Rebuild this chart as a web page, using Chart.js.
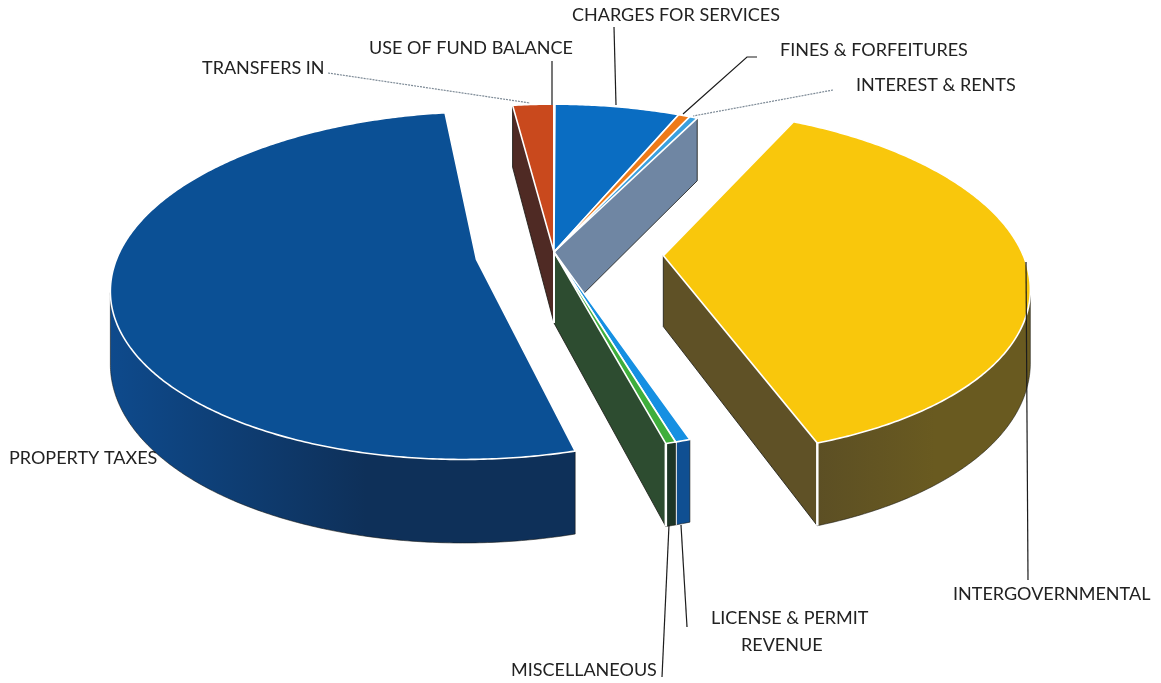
<!DOCTYPE html>
<html>
<head>
<meta charset="utf-8">
<title>Revenue sources</title>
<script src="https://cdn.jsdelivr.net/npm/chart.js@4"></script>
<style>
    html, body { margin: 0; padding: 0; background: #fff; }
    canvas { display: block; }
</style>
</head>
<body>
<canvas id="revenue_pie" width="1161" height="683"></canvas>
<script>
// share of revenue, percent, clockwise from the top left of the pie
const categories = ['TRANSFERS IN', 'USE OF FUND BALANCE', 'CHARGES FOR SERVICES', 'FINES & FORFEITURES',
    'INTEREST & RENTS', 'INTERGOVERNMENTAL', 'LICENSE & PERMIT REVENUE', 'MISCELLANEOUS', 'PROPERTY TAXES'];
const shares = [2.1, 0.06, 6.4, 0.6, 0.4, 37.3, 0.58, 0.39, 52.17];

const topColors = ['#c9491d', '#c9491d', '#0a6dc2', '#ee7a18', '#3aa0de', '#f9c70c', '#1690e2', '#3fae3c', '#0b5095'];
const wallLeft = ['#4f2a24', '#4f2a24', '#0a4a86', '#8a4a14', '#6f86a3', '#5c4f24', '#0f4f92', '#1d3526', '#0e4a8c'];
const wallRight = ['#4f2a24', '#4f2a24', '#0a4a86', '#8a4a14', '#6f86a3', '#695a20', '#0f4f92', '#1d3526', '#0e3059'];
const faceColors = ['#4f2a24', '#4f2a24', '#0a4a86', '#8a4a14', '#6f86a3', '#5f5126', '#0f4f92', '#2d4c30', '#104c8e'];
const explode = [0, 0, 0, 0, 0, 90, 0, 0, 65];

// [text, x, y centre] for every caption, leaders are polylines
const captions = [
    ['CHARGES FOR SERVICES', 572, 15],
    ['USE OF FUND BALANCE', 369, 48],
    ['TRANSFERS IN', 202, 68],
    ['FINES & FORFEITURES', 780, 50],
    ['INTEREST & RENTS', 856, 85],
    ['PROPERTY TAXES', 9, 458],
    ['INTERGOVERNMENTAL', 953, 594],
    ['LICENSE & PERMIT', 711, 618],
    ['REVENUE', 741, 645],
    ['MISCELLANEOUS', 511, 670]
];
const leaders = [
    [[614, 27], [616, 105]],
    [[552, 61], [552, 105]],
    [[757, 57], [747, 57], [683, 114]],
    [[1026, 262], [1028, 580]],
    [[681, 525], [687, 627]],
    [[669, 525], [662, 677]]
];
const dottedLeaders = [
    [[328, 73], [530, 103]],
    [[833, 90], [693, 116]]
];

// tilted view of the disc
const CX = 554, CY = 252, RX = 360, RY = 170, KEEP = 0.15, DEPTH = 71;

// u, v on the unit disc, z down the rim, ox, oy how far the slice is pulled out
function project(u, v, z, ox, oy) {
    const s = 1 / (1 - KEEP * v);
    return [CX + RX * (u + ox) * s, CY + (RY * v + DEPTH * z) * s + RY * oy];
}

function poly(ctx, pts) {
    ctx.beginPath();
    pts.forEach((p, i) => i ? ctx.lineTo(p[0], p[1]) : ctx.moveTo(p[0], p[1]));
}

const pie3d = {
    id: 'pie3d',
    beforeDatasetDraw(chart, args) {
        const ctx = chart.ctx;
        const arcs = chart.getDatasetMeta(args.index).data;
        const n = arcs.length;

        const slices = arcs.map((el, i) => {
            const half = (el.startAngle + el.endAngle) / 2;
            const d = (el.options.offset || 0) / el.outerRadius;
            const ox = Math.cos(half) * d, oy = Math.sin(half) * d;
            const at = (a, z) => project(Math.cos(a), Math.sin(a), z, ox, oy);
            const mid = (z) => project(0, 0, z, ox, oy);
            return {el, i, at, mid, off: el.options.offset || 0};
        });

        // cut faces, only where the neighbour is pulled away from this slice
        slices.forEach((s, i) => {
            const before = slices[(i + n - 1) % n], after = slices[(i + 1) % n];
            const sides = [];
            if (before.off !== s.off && Math.sin(s.el.startAngle + Math.PI / 2) < 0) sides.push(s.el.startAngle);
            if (after.off !== s.off && Math.sin(s.el.endAngle + Math.PI / 2) > 0) sides.push(s.el.endAngle);
            sides.forEach(a => {
                poly(ctx, [s.mid(0), s.at(a, 0), s.at(a, 1), s.mid(1)]);
                ctx.closePath();
                ctx.fillStyle = faceColors[i];
                ctx.fill();
                ctx.strokeStyle = 'rgba(20,20,15,0.8)';
                ctx.lineWidth = 1;
                ctx.stroke();
                if (!s.off) {
                    // pie centre column stays light between the two faces
                    poly(ctx, [s.mid(0), s.mid(1)]);
                    ctx.strokeStyle = '#fff';
                    ctx.lineWidth = 2;
                    ctx.stroke();
                }
            });
        });

        // rim, only the part turned to the viewer
        slices.forEach((s, i) => {
            const el = s.el;
            const steps = Math.max(2, Math.ceil((el.endAngle - el.startAngle) / 0.01));
            const front = [];
            for (let k = 0; k <= steps; k++) {
                const a = el.startAngle + (el.endAngle - el.startAngle) * k / steps;
                const nextX = s.at(a + 0.001, 0)[0];
                if (nextX < s.at(a, 0)[0]) front.push(a);
            }
            if (front.length < 2) return;
            const upper = front.map(a => s.at(a, 0));
            const lower = front.map(a => s.at(a, 1)).reverse();
            const xs = upper.map(p => p[0]);
            const grad = ctx.createLinearGradient(Math.min(...xs), 0, Math.max(...xs), 0);
            grad.addColorStop(0, wallLeft[i]);
            grad.addColorStop(0.55, wallRight[i]);
            grad.addColorStop(1, wallRight[i]);
            poly(ctx, upper.concat(lower));
            ctx.closePath();
            ctx.fillStyle = grad;
            ctx.fill();
            ctx.strokeStyle = 'rgba(20,20,15,0.55)';
            ctx.lineWidth = 1;
            ctx.stroke();
            // white seam at the clockwise end of front slices
            if (Math.sin(el.endAngle + Math.PI / 2) > 0 && front[front.length - 1] === el.endAngle) {
                poly(ctx, [s.at(el.endAngle, 0), s.at(el.endAngle, 1)]);
                ctx.strokeStyle = '#fff';
                ctx.lineWidth = 2.5;
                ctx.stroke();
            }
        });

        // top surfaces last, they hide everything behind them
        slices.forEach((s, i) => {
            const el = s.el;
            const steps = Math.max(2, Math.ceil((el.endAngle - el.startAngle) / 0.01));
            const pts = [s.mid(0)];
            for (let k = 0; k <= steps; k++) {
                pts.push(s.at(el.startAngle + (el.endAngle - el.startAngle) * k / steps, 0));
            }
            poly(ctx, pts);
            ctx.closePath();
            ctx.fillStyle = el.options.backgroundColor;
            ctx.fill();
            ctx.strokeStyle = el.options.borderColor;
            ctx.lineWidth = el.options.borderWidth;
            ctx.stroke();
        });
        return false;
    },
    afterDraw(chart) {
        const ctx = chart.ctx;
        ctx.save();
        ctx.strokeStyle = '#1c1c1c';
        ctx.lineWidth = 1.2;
        leaders.forEach(l => { poly(ctx, l); ctx.stroke(); });
        ctx.strokeStyle = '#7d8a96';
        ctx.lineWidth = 1.2;
        ctx.setLineDash([2, 1]);
        dottedLeaders.forEach(l => { poly(ctx, l); ctx.stroke(); });
        ctx.setLineDash([]);
        ctx.fillStyle = '#222';
        ctx.font = '18px Lato';
        ctx.textBaseline = 'middle';
        ctx.textAlign = 'left';
        captions.forEach(c => ctx.fillText(c[0], c[1], c[2]));
        ctx.restore();
    }
};

new Chart(document.getElementById('revenue_pie'), {
    type: 'pie',
    data: {
        labels: categories,
        datasets: [{
            data: shares,
            backgroundColor: topColors,
            borderColor: '#fff',
            borderWidth: 1.6,
            offset: explode
        }]
    },
    options: {
        responsive: false,
        animation: false,
        rotation: -7.6,
        layout: { padding: 0 },
        plugins: { legend: { display: false }, tooltip: { enabled: false } }
    },
    plugins: [pie3d]
});
</script>
</body>
</html>
